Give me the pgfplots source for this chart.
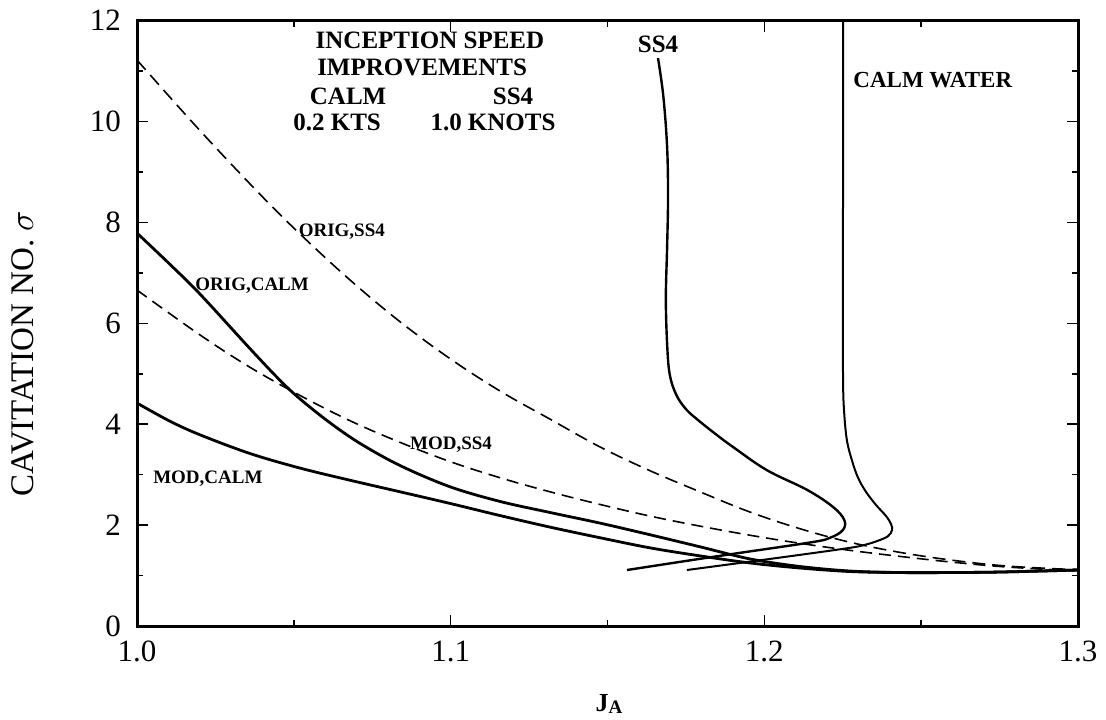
\documentclass[border=0pt]{standalone}
\usepackage{fontspec}
\setmainfont{Liberation Serif}
\usepackage{pgfplots}
\pgfplotsset{compat=1.18}
\begin{document}
\begin{tikzpicture}
\useasboundingbox (-68.5pt,-46.5pt) rectangle (484.5pt,313pt);
\begin{axis}[
  at={(0,0)}, anchor=south west,
  scale only axis, width=470.5pt, height=302.65pt,
  xmin=1, xmax=1.3, ymin=0, ymax=12,
  clip=false,
  axis line style={line width=1.5pt},
  xtick={1,1.1,1.2,1.3}, xticklabels={1.0,1.1,1.2,1.3},
  minor xtick={1.05,1.15,1.25},
  ytick={0,2,...,12}, minor ytick={1,3,...,11},
  tick align=inside, tick pos=both,
  major tick length=5.5pt, minor tick length=3pt,
  tick style={line width=0.8pt, black},
  every tick label/.append style={font=\fontsize{15.5}{18}\selectfont},
  /pgf/number format/assume math mode=true,
  xticklabel style={yshift=-4pt},
  yticklabel style={xshift=-4.5pt},
  xlabel={\fontsize{13}{15}\selectfont\bfseries J\raisebox{-0.15ex}{\fontsize{9.5}{11}\selectfont A}},
  xlabel style={at={(axis description cs:0.5016,-0.129)}, anchor=center},
  ylabel={\fontsize{16.5}{19}\selectfont CAVITATION NO. $\sigma$},
  ylabel style={at={(axis description cs:-0.1217,0.45)}, anchor=center},
]
% ORIG,SS4 (dashed)
\addplot[black, line width=0.8pt, dash pattern=on 6.5pt off 3.5pt, smooth, tension=0.6] coordinates {
(1.0000,11.22) (1.0201,9.82) (1.0392,8.56) (1.0520,7.77) (1.0679,6.86) (1.0839,6.03)
(1.0998,5.30) (1.1157,4.66) (1.1317,4.10) (1.1476,3.55) (1.1635,3.08) (1.1795,2.66)
(1.1954,2.26) (1.2113,1.93) (1.2273,1.66) (1.2432,1.46) (1.2592,1.31) (1.2751,1.20)
(1.2910,1.14) (1.3000,1.12)};
% MOD,SS4 (dashed)
\addplot[black, line width=0.8pt, dash pattern=on 6pt off 3.5pt, smooth, tension=0.6] coordinates {
(1.0000,6.66) (1.0201,5.77) (1.0360,5.13) (1.0520,4.57) (1.0679,4.07) (1.0839,3.64)
(1.0998,3.26) (1.1157,2.94) (1.1317,2.66) (1.1476,2.41) (1.1635,2.18) (1.1795,1.98)
(1.1954,1.80) (1.2113,1.64) (1.2273,1.50) (1.2432,1.38) (1.2592,1.27) (1.2751,1.18)
(1.2910,1.12) (1.3000,1.10)};
% ORIG,CALM
\addplot[black, line width=1.4pt, smooth, tension=0.55] coordinates {
(1.0000,7.79) (1.0105,7.17) (1.0201,6.58) (1.0360,5.50) (1.0456,4.87) (1.0520,4.50)
(1.0615,4.03) (1.0711,3.62) (1.0839,3.18) (1.0998,2.76) (1.1157,2.47) (1.1317,2.25)
(1.1476,2.04) (1.1635,1.81) (1.1795,1.57) (1.1954,1.33) (1.2113,1.18) (1.2273,1.09)
(1.2432,1.06) (1.2592,1.06) (1.2751,1.07) (1.3000,1.11)};
% MOD,CALM
\addplot[black, line width=1.4pt, smooth, tension=0.55] coordinates {
(1.0000,4.42) (1.0105,4.06) (1.0201,3.79) (1.0360,3.42) (1.0520,3.13) (1.0679,2.89)
(1.0839,2.66) (1.0998,2.43) (1.1157,2.19) (1.1317,1.96) (1.1476,1.75) (1.1635,1.55)
(1.1795,1.39) (1.1954,1.25) (1.2113,1.15) (1.2273,1.08) (1.2432,1.06) (1.2592,1.06)
(1.2751,1.07) (1.3000,1.11)};
% SS4 curve
\addplot[black, line width=1.2pt, smooth, tension=0.6] coordinates {
(1.1661,11.26) (1.1678,10.50) (1.1690,9.50) (1.1693,8.50) (1.1690,7.50) (1.1686,6.50)
(1.1690,5.60) (1.1698,5.00) (1.1718,4.60) (1.1750,4.30) (1.1795,4.05) (1.1850,3.78)
(1.1900,3.55) (1.2008,3.09) (1.2136,2.70) (1.2219,2.36) (1.2255,2.10) (1.2250,1.90)
(1.2210,1.75) (1.2150,1.66) (1.1900,1.43) (1.1740,1.28) (1.1562,1.11)};
% CALM WATER curve
\addplot[black, line width=1.0pt, smooth, tension=0.6] coordinates {
(1.2251,12.00) (1.2251,9.00) (1.2250,6.50) (1.2251,4.88) (1.2254,4.28) (1.2263,3.69)
(1.2279,3.29) (1.2298,2.95) (1.2324,2.66) (1.2356,2.40) (1.2388,2.18) (1.2404,2.02)
(1.2407,1.90) (1.2394,1.78) (1.2362,1.69) (1.2321,1.61) (1.2273,1.55) (1.2113,1.41)
(1.1922,1.25) (1.1753,1.11)};
% annotations
\node[font=\fontsize{12.5}{14}\selectfont\bfseries] at (axis cs:1.0934,11.62) {INCEPTION SPEED};
\node[font=\fontsize{12.5}{14}\selectfont\bfseries] at (axis cs:1.0909,11.08) {IMPROVEMENTS};
\node[font=\fontsize{12.5}{14}\selectfont\bfseries] at (axis cs:1.0673,10.51) {CALM};
\node[font=\fontsize{12.5}{14}\selectfont\bfseries] at (axis cs:1.1199,10.51) {SS4};
\node[font=\fontsize{12.5}{14}\selectfont\bfseries] at (axis cs:1.0638,9.99) {0.2 KTS};
\node[font=\fontsize{12.5}{14}\selectfont\bfseries] at (axis cs:1.1135,9.99) {1.0 KNOTS};
\node[font=\fontsize{12.5}{14}\selectfont\bfseries] at (axis cs:1.1661,11.54) {SS4};
\node[font=\fontsize{11.5}{13}\selectfont\bfseries] at (axis cs:1.2537,10.82) {CALM WATER};
\node[font=\fontsize{9.5}{11}\selectfont\bfseries] at (axis cs:1.0653,7.81) {ORIG,SS4};
\node[font=\fontsize{9.5}{11}\selectfont\bfseries] at (axis cs:1.0367,6.74) {ORIG,CALM};
\node[font=\fontsize{9.5}{11}\selectfont\bfseries] at (axis cs:1.1001,3.59) {MOD,SS4};
\node[font=\fontsize{9.5}{11}\selectfont\bfseries] at (axis cs:1.0226,2.93) {MOD,CALM};
\end{axis}
\end{tikzpicture}
\end{document}
